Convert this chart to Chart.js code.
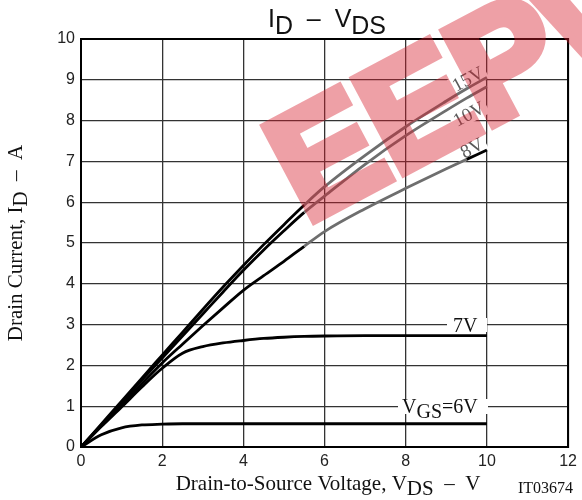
<!DOCTYPE html>
<html><head><meta charset="utf-8">
<script src="https://cdn.jsdelivr.net/npm/chart.js@4/dist/chart.umd.min.js"></script>
<style>html,body{margin:0;padding:0;background:#fff}</style>
</head><body>
<canvas id="c" width="582" height="500"></canvas>
<script>
// ---- data ----
const vds   = [0, 0.5, 1, 1.5, 2, 2.5, 3, 3.5, 4, 4.5, 5, 5.5, 6, 7, 8, 9, 9.5, 10];
const id15V = [0, 0.56, 1.12, 1.69, 2.25, 2.81, 3.37, 3.92, 4.45, 4.96, 5.45, 5.93, 6.38, 7.15, 7.85, 8.48, 8.78, 9.06];
const id10V = [0, 0.54, 1.09, 1.64, 2.18, 2.72, 3.26, 3.80, 4.33, 4.83, 5.30, 5.75, 6.15, 6.93, 7.63, 8.25, 8.55, 8.83];
const id8V  = [0, 0.52, 1.03, 1.55, 2.06, 2.52, 2.97, 3.41, 3.84, 4.20, 4.55, 4.92, 5.28, 5.84, 6.34, 6.82, 7.05, 7.28];
const id7V  = [0, 0.50, 0.98, 1.47, 1.93, 2.30, 2.46, 2.55, 2.61, 2.66, 2.69, 2.71, 2.72, 2.73, 2.73, 2.73, 2.73, 2.73];
const id6V  = [0, 0.30, 0.47, 0.54, 0.56, 0.57, 0.57, 0.57, 0.57, 0.57, 0.57, 0.57, 0.57, 0.57, 0.57, 0.57, 0.57, 0.57];
const xTicks = [0, 2, 4, 6, 8, 10, 12];
const yTicks = [0, 1, 2, 3, 4, 5, 6, 7, 8, 9, 10];
const curveLabels = ['15V', '10V', '8V', '7V', 'VGS=6V'];

const SANS = '"Liberation Sans", Arial, sans-serif';
const SERIF = '"Liberation Serif", "Times New Roman", serif';
const GRAY = '#6e6e6e';

function pts(ys){ return vds.map((x,i)=>({x:x, y:ys[i]})); }
function grayFrom(x0, x1){
  return c => (c.p0.parsed.x >= x0 && c.p1.parsed.x <= x1) ? GRAY : undefined;
}
function ds(label, ys, seg){
  const d = {label, data: pts(ys), borderColor:'#000', borderWidth:2.8, pointRadius:0,
    fill:false, cubicInterpolationMode:'monotone'};
  if (seg) d.segment = {borderColor: seg};
  return d;
}

// draw a run of text pieces with baseline offsets: parts = [[text, dy], ...]
function drawParts(ctx, parts, x, y, align){
  let w = 0; parts.forEach(p => w += ctx.measureText(p[0]).width);
  let cx = align === 'center' ? x - w/2 : (align === 'right' ? x - w : x);
  ctx.textAlign = 'left';
  parts.forEach(p => { ctx.fillText(p[0], cx, y + p[1]); cx += ctx.measureText(p[0]).width; });
  return w;
}

const overlay = {
  id: 'overlay',
  beforeDatasetsDraw(chart){
    const ctx = chart.ctx;
    ctx.save();
    // rotated labels 15V, 10V, 8V
    ctx.font = '19px ' + SERIF;
    ctx.textBaseline = 'middle';
    const rl = [[curveLabels[0], 468, 79], [curveLabels[1], 469, 114], [curveLabels[2], 472, 148]];
    rl.forEach(r => {
      ctx.save();
      ctx.translate(r[1], r[2]);
      ctx.rotate(-28*Math.PI/180);
      const w = ctx.measureText(r[0]).width;
      ctx.fillStyle = '#fff';
      ctx.fillRect(-w/2-3, -9, w+6, 18);
      ctx.fillStyle = '#5a5a5a';
      ctx.textAlign = 'center';
      ctx.fillText(r[0], 0, 1);
      ctx.restore();
    });
    // 7V label
    ctx.font = '20px ' + SERIF;
    ctx.textBaseline = 'alphabetic';
    ctx.fillStyle = '#fff';
    ctx.fillRect(447, 318, 40, 14);
    ctx.fillStyle = '#111';
    ctx.textAlign = 'left';
    ctx.fillText(curveLabels[3], 453, 332);
    // VGS=6V label
    ctx.fillStyle = '#fff';
    ctx.fillRect(398, 399, 90, 15);
    ctx.fillStyle = '#111';
    drawParts(ctx, [['V',0],['GS',5],['=6V',0]], 402, 413, 'left');
    ctx.restore();
  },
  afterDraw(chart){
    const ctx = chart.ctx, a = chart.chartArea;
    ctx.save();
    // frame (top & right)
    ctx.strokeStyle = '#000'; ctx.lineWidth = 2;
    ctx.strokeRect(a.left, a.top, a.right - a.left, a.bottom - a.top);
    // watermark: heavy letters drawn opaque offscreen, then composited translucently
    const off = document.createElement('canvas');
    off.width = chart.width; off.height = chart.height;
    const o = off.getContext('2d');
    o.translate(306, 224);
    o.rotate(-28*Math.PI/180);
    o.font = 'bold 152px ' + SANS;
    o.fillStyle = 'rgb(214,30,45)'; o.strokeStyle = 'rgb(214,30,45)';
    o.lineWidth = 10; o.lineJoin = 'miter';
    o.textAlign = 'left'; o.textBaseline = 'alphabetic';
    o.fillText('EEPW', 0, 0);
    o.strokeText('EEPW', 0, 0);
    ctx.globalAlpha = 0.42;
    ctx.drawImage(off, 0, 0);
    ctx.globalAlpha = 1;
    // title
    ctx.fillStyle = '#111';
    ctx.font = '25px ' + SANS;
    ctx.textBaseline = 'alphabetic';
    drawParts(ctx, [['I',0],['D',6.5],['  \u2013  ',0],['V',0],['DS',6.5]], 327, 27, 'center');
    // x title
    ctx.font = '21px ' + SERIF;
    drawParts(ctx, [['Drain-to-Source Voltage, V',0],['DS',5],['  \u2013  V',0]], 328, 490, 'center');
    // code
    ctx.font = '16px ' + SERIF;
    ctx.fillText('IT03674', 518, 493);
    // y title
    ctx.save();
    ctx.translate(22, 243);
    ctx.rotate(-Math.PI/2);
    ctx.font = '21px ' + SERIF;
    drawParts(ctx, [['Drain Current, I',0],['D',5],['  \u2013  A',0]], 0, 0, 'center');
    ctx.restore();
    ctx.restore();
  }
};

new Chart(document.getElementById('c'), {
  type: 'line',
  data: { datasets: [
    ds(curveLabels[0], id15V, grayFrom(5.5, 10.1)),
    ds(curveLabels[1], id10V, grayFrom(5.5, 10.1)),
    ds(curveLabels[2], id8V, grayFrom(5.5, 9.5)),
    ds(curveLabels[3], id7V),
    ds(curveLabels[4], id6V)
  ]},
  options: {
    responsive: false, animation: false,
    layout: { padding: { left: 0, right: 9, top: 39, bottom: 0 } },
    plugins: { legend: { display: false }, tooltip: { enabled: false }, title: { display: false } },
    scales: {
      x: { type: 'linear', min: 0, max: 12,
        afterBuildTicks: s => { s.ticks = xTicks.map(v => ({value: v})); },
        ticks: { font: { family: SANS, size: 16 }, color: '#222', padding: 5, maxRotation: 0 },
        grid: { color: '#333', lineWidth: 1.3, drawTicks: false },
        border: { color: '#000', width: 2 },
        afterFit: s => { s.height = 53; } },
      y: { type: 'linear', min: 0, max: 10,
        afterBuildTicks: s => { s.ticks = yTicks.map(v => ({value: v})); },
        ticks: { font: { family: SANS, size: 16 }, color: '#222', padding: 6 },
        grid: { color: '#333', lineWidth: 1.3, drawTicks: false },
        border: { color: '#000', width: 2 },
        afterFit: s => { s.width = 81; } }
    }
  },
  plugins: [overlay]
});
</script>
</body></html>
